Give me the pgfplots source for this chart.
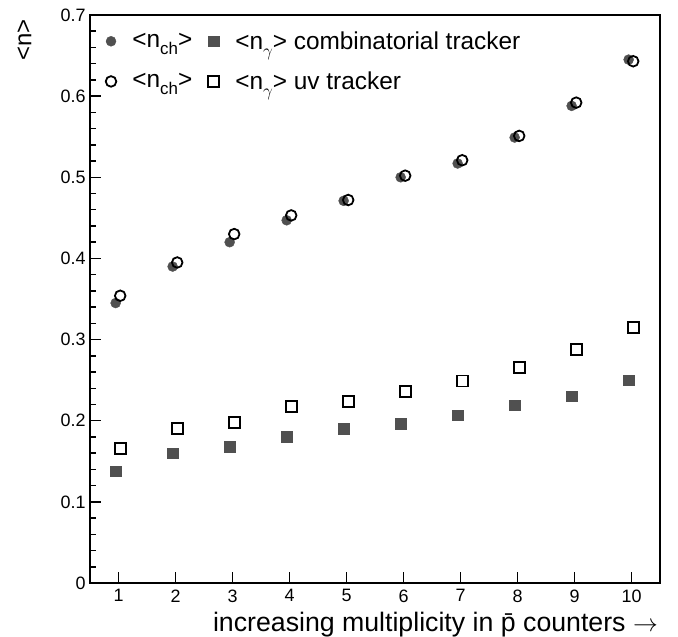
\documentclass[border=0pt]{standalone}
\usepackage{pgfplots}
\pgfplotsset{compat=1.18}
\usepackage{fontspec}
\setmainfont{Liberation Sans}
\definecolor{dg}{HTML}{505050}
\newcommand{\sub}[1]{\raisebox{-7bp}{\fontsize{17}{17}\selectfont #1}}
\begin{document}
\begin{tikzpicture}
\begin{axis}[
  at={(0,0)}, anchor=south west,
  scale only axis,
  width=570bp, height=568bp,
  xmin=0.5, xmax=10.5, ymin=0, ymax=0.7,
  xtick={1,2,3,4,5,6,7,8,9,10},
  ytick={0,0.1,0.2,0.3,0.4,0.5,0.6,0.7},
  yticklabels={0,0.1,0.2,0.3,0.4,0.5,0.6,0.7},
  minor ytick={0.02,0.04,...,0.69},
  tick pos=left,
  major tick length=11bp, minor tick length=6bp,
  tick style={black, line width=1.5pt},
  axis line style={line width=1.5pt},
  /pgf/number format/assume math mode=true,
  ticklabel style={font=\fontsize{18}{20}\selectfont},
  yticklabel style={xshift=-1bp},
  xticklabel style={yshift=-3bp},
  xlabel={increasing multiplicity in \={p} counters $\rightarrow$},
  xlabel style={font=\fontsize{26.8}{28}\selectfont, at={(rel axis cs:1,0)}, anchor=base east, inner sep=0pt, yshift=-48bp, xshift=-2bp},
  ylabel={<n>},
  ylabel style={font=\fontsize{24}{26}\selectfont, at={(rel axis cs:-0.115,0.993)}, anchor=east, inner sep=0pt},
  legend columns=2,
  legend cell align=left,
  legend style={draw=none, fill=none, at={(rel axis cs:0.022,0.978)}, anchor=north west,
    font=\fontsize{24.5}{26}\selectfont, row sep=17bp,
    /tikz/every odd column/.append style={column sep=14bp},
    /tikz/every even column/.append style={column sep=14bp}},
]
\addplot[only marks, mark=*, mark size=5bp, dg, mark options={fill=dg, draw=dg}]
coordinates {(0.95,0.345)(1.95,0.390)(2.95,0.420)(3.95,0.447)(4.95,0.471)(5.95,0.500)(6.95,0.517)(7.95,0.549)(8.95,0.588)(9.95,0.645)};
\addlegendentry{<n\sub{ch}>}
\addplot[only marks, mark=square*, mark size=5.3bp, dg, mark options={fill=dg, draw=dg}]
coordinates {(0.95,0.138)(1.95,0.160)(2.95,0.168)(3.95,0.180)(4.95,0.190)(5.95,0.196)(6.95,0.207)(7.95,0.219)(8.95,0.230)(9.95,0.250)};
\addlegendentry{<n\sub{$\gamma$}> combinatorial tracker}
\addplot[only marks, mark=o, mark size=5.3bp, black, mark options={line width=1.8pt, fill=white}]
coordinates {(1.03,0.354)(2.03,0.395)(3.03,0.430)(4.03,0.453)(5.03,0.472)(6.03,0.502)(7.03,0.521)(8.03,0.551)(9.03,0.592)(10.03,0.643)};
\addlegendentry{<n\sub{ch}>}
\addplot[only marks, mark=square, mark size=5.5bp, black, mark options={line width=1.8pt, fill=white}]
coordinates {(1.03,0.166)(2.03,0.190)(3.03,0.198)(4.03,0.218)(5.03,0.224)(6.03,0.236)(7.03,0.249)(8.03,0.266)(9.03,0.288)(10.03,0.315)};
\addlegendentry{<n\sub{$\gamma$}> uv tracker}
\end{axis}
\pgfresetboundingbox
\path[use as bounding box] (-90bp,-54bp) rectangle (588bp,583bp);
\end{tikzpicture}
\end{document}
